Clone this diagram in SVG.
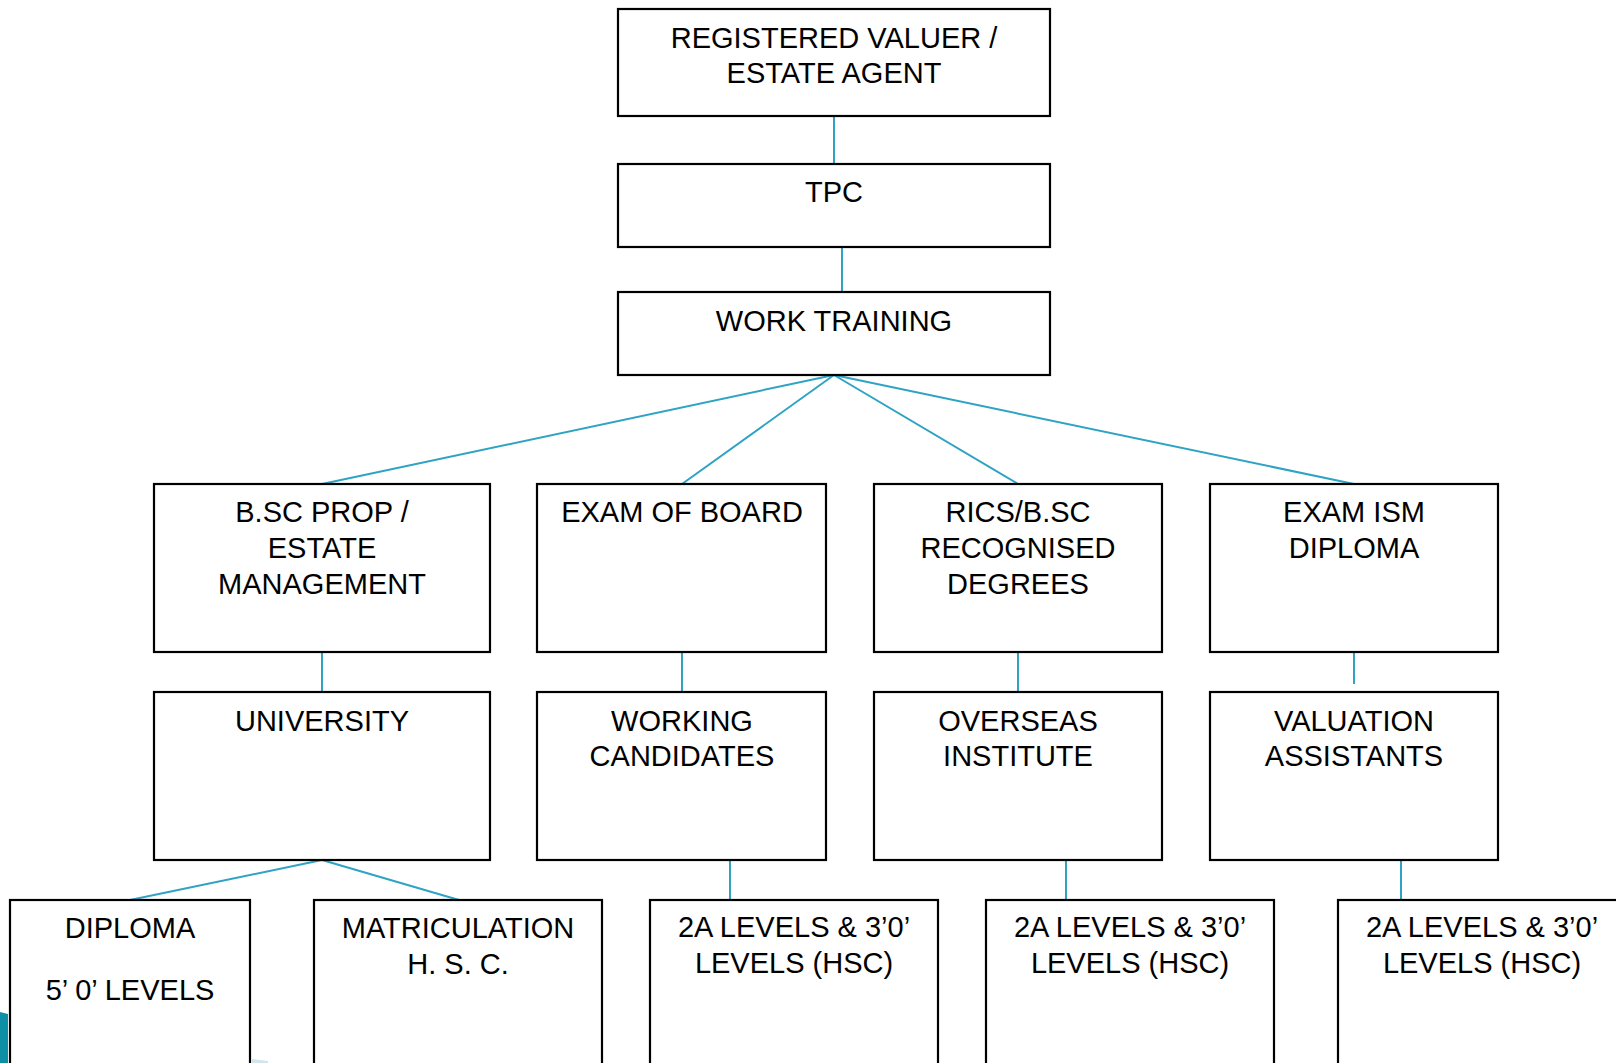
<svg xmlns="http://www.w3.org/2000/svg" width="1616" height="1063" viewBox="0 0 1616 1063">
<style>
.box{fill:#fff;stroke:#000;stroke-width:2.2}
.lbl{font-family:"Liberation Sans",Arial,sans-serif;font-size:29px;fill:#000;text-anchor:middle}
.con{stroke:#2ea3c4;stroke-width:2;fill:none}
</style>
<rect width="1616" height="1063" fill="#fff"/>
<g id="decoration">
<polygon points="0,1012 8,1014 8,1063 0,1063" fill="#0e8fa6"/>
<polygon points="252,1059 268,1061 268,1063 252,1063" fill="#cfe6ef"/>
</g>
<g id="connectors">
<line class="con" x1="834" y1="116" x2="834" y2="164"/>
<line class="con" x1="842" y1="244" x2="842" y2="292"/>
<line class="con" x1="834" y1="375" x2="322" y2="484"/>
<line class="con" x1="834" y1="375" x2="682" y2="484"/>
<line class="con" x1="834" y1="375" x2="1018" y2="484"/>
<line class="con" x1="834" y1="375" x2="1354" y2="484"/>
<line class="con" x1="322" y1="652" x2="322" y2="692"/>
<line class="con" x1="682" y1="652" x2="682" y2="692"/>
<line class="con" x1="1018" y1="652" x2="1018" y2="692"/>
<line class="con" x1="1354" y1="643" x2="1354" y2="684"/>
<line class="con" x1="322" y1="860" x2="130" y2="900"/>
<line class="con" x1="322" y1="860" x2="459" y2="900"/>
<line class="con" x1="730" y1="860" x2="730" y2="900"/>
<line class="con" x1="1066" y1="860" x2="1066" y2="900"/>
<line class="con" x1="1401" y1="860" x2="1401" y2="900"/>
</g>
<g id="n-registered">
<rect class="box" x="618" y="9" width="432" height="107"/>
<text class="lbl" x="834" y="48">REGISTERED VALUER /</text>
<text class="lbl" x="834" y="83">ESTATE AGENT</text>
</g>
<g id="n-tpc">
<rect class="box" x="618" y="164" width="432" height="83"/>
<text class="lbl" x="834" y="202">TPC</text>
</g>
<g id="n-work">
<rect class="box" x="618" y="292" width="432" height="83"/>
<text class="lbl" x="834" y="331">WORK TRAINING</text>
</g>
<g id="n-bsc">
<rect class="box" x="154" y="484" width="336" height="168"/>
<text class="lbl" x="322" y="522">B.SC PROP /</text>
<text class="lbl" x="322" y="558">ESTATE</text>
<text class="lbl" x="322" y="594">MANAGEMENT</text>
</g>
<g id="n-exam-board">
<rect class="box" x="537" y="484" width="289" height="168"/>
<text class="lbl" x="682" y="522">EXAM OF BOARD</text>
</g>
<g id="n-rics">
<rect class="box" x="874" y="484" width="288" height="168"/>
<text class="lbl" x="1018" y="522">RICS/B.SC</text>
<text class="lbl" x="1018" y="558">RECOGNISED</text>
<text class="lbl" x="1018" y="594">DEGREES</text>
</g>
<g id="n-exam-ism">
<rect class="box" x="1210" y="484" width="288" height="168"/>
<text class="lbl" x="1354" y="522">EXAM ISM</text>
<text class="lbl" x="1354" y="558">DIPLOMA</text>
</g>
<g id="n-university">
<rect class="box" x="154" y="692" width="336" height="168"/>
<text class="lbl" x="322" y="731">UNIVERSITY</text>
</g>
<g id="n-working">
<rect class="box" x="537" y="692" width="289" height="168"/>
<text class="lbl" x="682" y="731">WORKING</text>
<text class="lbl" x="682" y="766">CANDIDATES</text>
</g>
<g id="n-overseas">
<rect class="box" x="874" y="692" width="288" height="168"/>
<text class="lbl" x="1018" y="731">OVERSEAS</text>
<text class="lbl" x="1018" y="766">INSTITUTE</text>
</g>
<g id="n-valuation">
<rect class="box" x="1210" y="692" width="288" height="168"/>
<text class="lbl" x="1354" y="731">VALUATION</text>
<text class="lbl" x="1354" y="766">ASSISTANTS</text>
</g>
<g id="n-diploma">
<rect class="box" x="10" y="900" width="240" height="175"/>
<text class="lbl" x="130" y="938">DIPLOMA</text>
<text class="lbl" x="130" y="1000">5’ 0’ LEVELS</text>
</g>
<g id="n-matric">
<rect class="box" x="314" y="900" width="288" height="175"/>
<text class="lbl" x="458" y="938">MATRICULATION</text>
<text class="lbl" x="458" y="974">H. S. C.</text>
</g>
<g id="n-2a-1">
<rect class="box" x="650" y="900" width="288" height="175"/>
<text class="lbl" x="794" y="937">2A LEVELS &amp; 3’0’</text>
<text class="lbl" x="794" y="973">LEVELS (HSC)</text>
</g>
<g id="n-2a-2">
<rect class="box" x="986" y="900" width="288" height="175"/>
<text class="lbl" x="1130" y="937">2A LEVELS &amp; 3’0’</text>
<text class="lbl" x="1130" y="973">LEVELS (HSC)</text>
</g>
<g id="n-2a-3">
<rect class="box" x="1338" y="900" width="288" height="175"/>
<text class="lbl" x="1482" y="937">2A LEVELS &amp; 3’0’</text>
<text class="lbl" x="1482" y="973">LEVELS (HSC)</text>
</g>
</svg>
